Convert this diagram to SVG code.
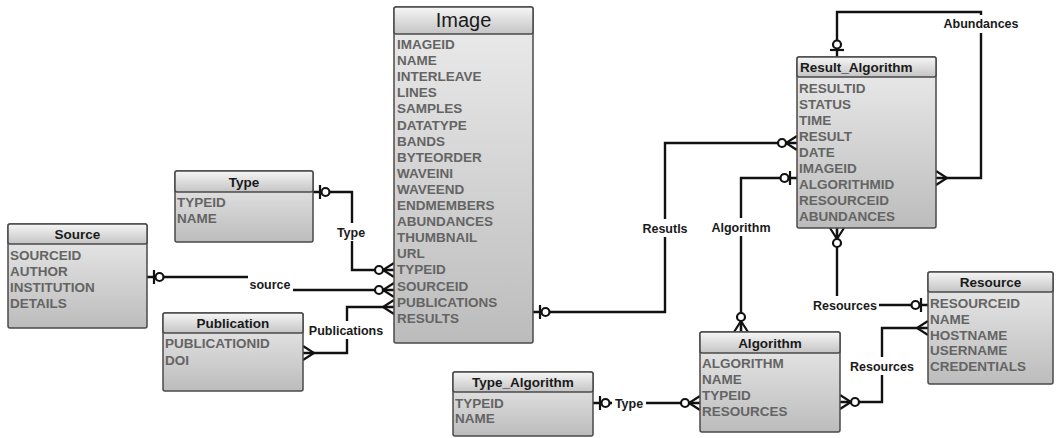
<svg xmlns="http://www.w3.org/2000/svg" width="1057" height="438" viewBox="0 0 1057 438">
<style>
.body{fill:url(#gBody);stroke:#4a4a4a;stroke-width:1.5}
.head{fill:url(#gHead);stroke:#4a4a4a;stroke-width:1.5}
.ht{font-family:"Liberation Sans",Arial,sans-serif;font-weight:bold;font-size:13.5px;fill:#1a1a1a;text-anchor:middle}
.f{font-family:"Liberation Sans",Arial,sans-serif;font-weight:bold;font-size:13.5px;fill:#646464}
.c{fill:none;stroke:#111;stroke-width:2.4}
.lb{font-family:"Liberation Sans",Arial,sans-serif;font-weight:bold;font-size:12.5px;fill:#1a1a1a;text-anchor:middle}
.bg{fill:#fff}
.m{fill:none;stroke:#111;stroke-width:2.2}
.mc{fill:#fff;stroke:#111;stroke-width:2.2}
</style>
<defs>
<linearGradient id="gBody" x1="0" y1="0" x2="0" y2="1"><stop offset="0" stop-color="#ececec"/><stop offset="1" stop-color="#bcbcbc"/></linearGradient>
<linearGradient id="gHead" x1="0" y1="0" x2="0" y2="1"><stop offset="0" stop-color="#f6f6f6"/><stop offset="1" stop-color="#c4c4c4"/></linearGradient>
<marker id="oneZero" markerUnits="userSpaceOnUse" markerWidth="22" markerHeight="20" refX="0" refY="0" viewBox="-20 -10 22 20" orient="auto-start-reverse" overflow="visible">
<path class="m" d="M-7,-7V7"/><circle class="mc" cx="-12.5" cy="0" r="4"/>
</marker>
<marker id="zeroMany" markerUnits="userSpaceOnUse" markerWidth="22" markerHeight="20" refX="0" refY="0" viewBox="-20 -10 22 20" orient="auto-start-reverse" overflow="visible">
<path class="m" d="M0,-7L-11,0L0,7M-11,0H0"/><circle class="mc" cx="-15" cy="0" r="4"/>
</marker>
<marker id="many" markerUnits="userSpaceOnUse" markerWidth="22" markerHeight="20" refX="0" refY="0" viewBox="-20 -10 22 20" orient="auto-start-reverse" overflow="visible">
<path class="m" d="M0,-7L-11,0L0,7M-11,0H0"/>
</marker>
</defs>
<rect width="1057" height="438" fill="#fff"/>

<g id="connectors">
<path class="c" d="M313,192H352V270H394" marker-start="url(#oneZero)" marker-end="url(#zeroMany)"/>
<path class="c" d="M147,277H270V290H394" marker-start="url(#oneZero)" marker-end="url(#zeroMany)"/>
<path class="c" d="M303,353H347V307H394" marker-start="url(#many)" marker-end="url(#many)"/>
<path class="c" d="M533,312H665V143H797" marker-start="url(#oneZero)" marker-end="url(#zeroMany)"/>
<path class="c" d="M741,332V178H797" marker-start="url(#zeroMany)" marker-end="url(#oneZero)"/>
<path class="c" d="M837,57V12H981V178H936" marker-start="url(#oneZero)" marker-end="url(#many)"/>
<path class="c" d="M837,228V305H928" marker-start="url(#zeroMany)" marker-end="url(#oneZero)"/>
<path class="c" d="M840,402H882V328H928" marker-start="url(#zeroMany)" marker-end="url(#many)"/>
<path class="c" d="M593,403H700" marker-start="url(#oneZero)" marker-end="url(#zeroMany)"/>
<rect class="bg" x="335" y="223" width="34" height="18"/><text class="lb" x="351" y="236.5">Type</text>
<rect class="bg" x="248" y="275" width="45" height="18"/><text class="lb" x="270" y="288.5">source</text>
<rect class="bg" x="306" y="321" width="81" height="18"/><text class="lb" x="346" y="334.5">Publications</text>
<rect class="bg" x="639" y="219" width="52" height="18"/><text class="lb" x="665" y="232.5">Resutls</text>
<rect class="bg" x="708" y="218" width="66" height="18"/><text class="lb" x="741" y="231.5">Algorithm</text>
<rect class="bg" x="941" y="15" width="80" height="18"/><text class="lb" x="981" y="27.5">Abundances</text>
<rect class="bg" x="811" y="296" width="68" height="18"/><text class="lb" x="845" y="309.5">Resources</text>
<rect class="bg" x="848" y="357" width="68" height="18"/><text class="lb" x="882" y="370.5">Resources</text>
<rect class="bg" x="612" y="394" width="34" height="18"/><text class="lb" x="629" y="407.5">Type</text>
</g>

<g id="Image">
<rect class="body" x="394" y="7" width="139" height="336" rx="2"/>
<rect class="head" x="394" y="7" width="139" height="27" rx="2"/>
<text x="463.5" y="27" style="font-family:'Liberation Sans',Arial,sans-serif;font-size:20px;fill:#1a1a1a;text-anchor:middle">Image</text>
<text class="f" x="397" y="49">IMAGEID</text>
<text class="f" x="397" y="65.1">NAME</text>
<text class="f" x="397" y="81.2">INTERLEAVE</text>
<text class="f" x="397" y="97.3">LINES</text>
<text class="f" x="397" y="113.4">SAMPLES</text>
<text class="f" x="397" y="129.5">DATATYPE</text>
<text class="f" x="397" y="145.6">BANDS</text>
<text class="f" x="397" y="161.7">BYTEORDER</text>
<text class="f" x="397" y="177.8">WAVEINI</text>
<text class="f" x="397" y="193.9">WAVEEND</text>
<text class="f" x="397" y="210">ENDMEMBERS</text>
<text class="f" x="397" y="226.1">ABUNDANCES</text>
<text class="f" x="397" y="242.2">THUMBNAIL</text>
<text class="f" x="397" y="258.3">URL</text>
<text class="f" x="397" y="274.4">TYPEID</text>
<text class="f" x="397" y="290.5">SOURCEID</text>
<text class="f" x="397" y="306.6">PUBLICATIONS</text>
<text class="f" x="397" y="322.7">RESULTS</text>
</g>

<g id="Type">
<rect class="body" x="175" y="171" width="138" height="71" rx="2"/>
<rect class="head" x="175" y="171" width="138" height="21" rx="2"/>
<text class="ht" x="244" y="186.5">Type</text>
<text class="f" x="177" y="207">TYPEID</text>
<text class="f" x="177" y="223">NAME</text>
</g>

<g id="Source">
<rect class="body" x="8" y="224" width="139" height="104" rx="2"/>
<rect class="head" x="8" y="224" width="139" height="20" rx="2"/>
<text class="ht" x="77.5" y="239">Source</text>
<text class="f" x="10" y="260">SOURCEID</text>
<text class="f" x="10" y="276">AUTHOR</text>
<text class="f" x="10" y="292">INSTITUTION</text>
<text class="f" x="10" y="308">DETAILS</text>
</g>

<g id="Publication">
<rect class="body" x="163" y="313" width="140" height="78" rx="2"/>
<rect class="head" x="163" y="313" width="140" height="20" rx="2"/>
<text class="ht" x="233" y="328">Publication</text>
<text class="f" x="165" y="348">PUBLICATIONID</text>
<text class="f" x="165" y="364.5">DOI</text>
</g>

<g id="Result_Algorithm">
<rect class="body" x="797" y="57" width="139" height="171" rx="2"/>
<rect class="head" x="797" y="57" width="139" height="20" rx="2"/>
<text class="ht" x="800" y="72" style="text-anchor:start">Result_Algorithm</text>
<text class="f" x="799" y="93">RESULTID</text>
<text class="f" x="799" y="109">STATUS</text>
<text class="f" x="799" y="125">TIME</text>
<text class="f" x="799" y="141">RESULT</text>
<text class="f" x="799" y="157">DATE</text>
<text class="f" x="799" y="173">IMAGEID</text>
<text class="f" x="799" y="189">ALGORITHMID</text>
<text class="f" x="799" y="205">RESOURCEID</text>
<text class="f" x="799" y="221">ABUNDANCES</text>
</g>

<g id="Resource">
<rect class="body" x="928" y="272" width="125" height="112" rx="2"/>
<rect class="head" x="928" y="272" width="125" height="20" rx="2"/>
<text class="ht" x="990.5" y="287">Resource</text>
<text class="f" x="930" y="308">RESOURCEID</text>
<text class="f" x="930" y="323.8">NAME</text>
<text class="f" x="930" y="339.6">HOSTNAME</text>
<text class="f" x="930" y="355.4">USERNAME</text>
<text class="f" x="930" y="371.2">CREDENTIALS</text>
</g>

<g id="Algorithm">
<rect class="body" x="700" y="332" width="140" height="100" rx="2"/>
<rect class="head" x="700" y="332" width="140" height="21" rx="2"/>
<text class="ht" x="770" y="347.5">Algorithm</text>
<text class="f" x="702" y="368">ALGORITHM</text>
<text class="f" x="702" y="384">NAME</text>
<text class="f" x="702" y="400">TYPEID</text>
<text class="f" x="702" y="416">RESOURCES</text>
</g>

<g id="Type_Algorithm">
<rect class="body" x="453" y="372" width="140" height="64" rx="2"/>
<rect class="head" x="453" y="372" width="140" height="20" rx="2"/>
<text class="ht" x="523" y="387">Type_Algorithm</text>
<text class="f" x="455" y="408">TYPEID</text>
<text class="f" x="455" y="423">NAME</text>
</g>
</svg>
